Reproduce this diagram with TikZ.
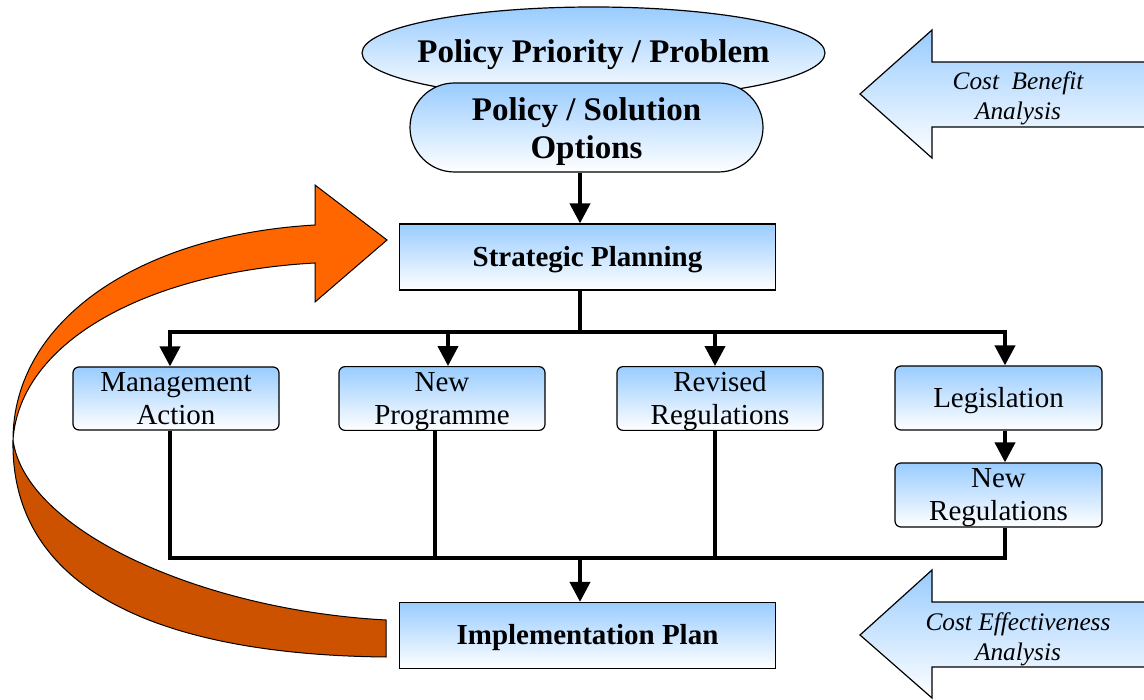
\documentclass[tikz,border=0pt]{standalone}
\usepackage{fontspec}
\setmainfont{Liberation Serif}
\usetikzlibrary{arrows.meta,shapes.geometric,shapes.misc,calc}
\definecolor{lblue}{RGB}{153,204,255}
\definecolor{orangeA}{RGB}{255,102,0}
\definecolor{orangeB}{RGB}{204,82,0}
\newcommand{\bxs}{\rule[-5.5pt]{0pt}{30pt}}
\newcommand{\tts}{\rule[-9.5pt]{0pt}{39pt}}
\newcommand{\pls}{\rule[-7pt]{0pt}{38pt}}
\begin{document}
\begin{tikzpicture}[x=1pt,y=-1pt,
  bluefill/.style={draw=black, line width=1.2pt, top color=lblue, bottom color=white, inner sep=0pt, align=center},
  smallbox/.style={bluefill, rounded corners=6pt, minimum width=206pt, minimum height=63pt, font=\fontsize{29}{33}\selectfont},
  bigbox/.style={bluefill, minimum width=376pt, minimum height=66pt, font=\fontsize{29}{34}\selectfont\bfseries},
  titlefont/.style={font=\fontsize{33}{38.5}\selectfont\bfseries, align=center, inner sep=0pt},
  conn/.style={line width=4pt},
  arr/.style={conn, -{Triangle[width=20pt,length=20pt]}},
  costarrow/.style={draw=black, line width=1.2pt, top color=lblue, bottom color=white},
  costtext/.style={align=center, font=\fontsize{25.3}{30}\selectfont\itshape},
  ribbon/.style={draw=black, line width=1pt}
]
\fill[white] (0,0) rectangle (1144,700);
\useasboundingbox (0,0) rectangle (1144,700);
\begin{scope}
\clip (0,0) rectangle (1144,700);
% cost arrows
\shadedraw[costarrow] (1160,62) -- (932,62) -- (932,30) -- (860,94) -- (932,158) -- (932,127) -- (1160,127);
\shadedraw[costarrow] (1160,602) -- (932,602) -- (932,570) -- (860,635) -- (932,698) -- (932,667) -- (1160,667);
\end{scope}
\node[costtext] (cba) at (1018,98) {Cost\ \ Benefit\\Analysis};
\node[costtext] (cea) at (1018,639) {Cost Effectiveness\\Analysis};

% orange ribbon arrow
\filldraw[ribbon, fill=orangeB] (13,440) .. controls (25,530) and (200,610) .. (386,620) -- (386,657) .. controls (180,655) and (10,600) .. (13,440) -- cycle;
\filldraw[ribbon, fill=orangeA] (13,440) .. controls (13,320) and (140,235) .. (315,225) -- (315,185) -- (387,240) -- (315,302) -- (315,263) .. controls (150,272) and (20,340) .. (13,440) -- cycle;

% top nodes
\node[bluefill, ellipse, minimum width=463pt, minimum height=92pt] (prob) at (593.5,53) {};
\node[titlefont] (probtext) at (prob.center) {\tts Policy Priority / Problem};
\node[bluefill, titlefont, rounded rectangle, minimum width=353pt, minimum height=89pt] (opt) at (586.5,127.5) {\pls Policy / Solution\\\pls Options};

\node[bigbox] (sp) at (587.5,257) {\bxs Strategic Planning};
\node[bigbox] (ip) at (587.5,635.5) {\bxs Implementation Plan};

\node[smallbox] (ma) at (176,398.5) {\bxs Management\\\bxs Action};
\node[smallbox] (np) at (442,398.5) {\bxs New\\\bxs Programme};
\node[smallbox] (rr) at (720,398.5) {\bxs Revised\\\bxs Regulations};
\node[smallbox, minimum width=207pt, minimum height=64pt] (leg) at (998.5,398) {\bxs Legislation};
\node[smallbox, minimum width=207pt, minimum height=64pt] (nr) at (998.5,495) {\bxs New\\\bxs Regulations};

% connector coordinates
\coordinate (top) at (580,332);
\coordinate (bot) at (580,558);
\coordinate (c1) at (170,332);
\coordinate (c2) at (448,332);
\coordinate (c3) at (715,332);
\coordinate (c4) at (1005,332);
\coordinate (d1) at (170,558);
\coordinate (d2) at (435,558);
\coordinate (d3) at (715,558);
\coordinate (d4) at (1005,558);

\draw[arr] (opt.south -| top) -- (sp.north -| top);
\draw[conn] (sp.south -| top) -- (top);
\draw[conn, line cap=rect] (c1) -- (c4);
\draw[arr] (c1) -- (ma.north -| c1);
\draw[arr] (c2) -- (np.north -| c2);
\draw[arr] (c3) -- (rr.north -| c3);
\draw[arr] (c4) -- (leg.north -| c4);
\draw[arr] (leg.south -| c4) -- (nr.north -| c4);
\draw[conn] (ma.south -| d1) -- (d1) -- (d4) -- (nr.south -| d4);
\draw[conn] (np.south -| d2) -- (d2);
\draw[conn] (rr.south -| d3) -- (d3);
\draw[arr] (bot) -- (ip.north -| bot);
\end{tikzpicture}
\end{document}
